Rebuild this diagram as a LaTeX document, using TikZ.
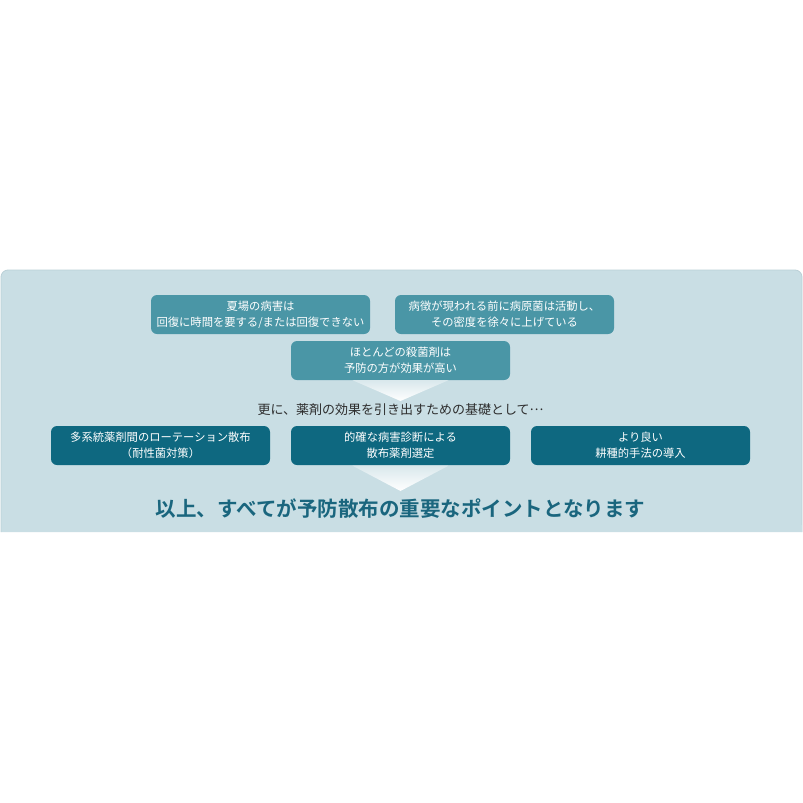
\documentclass[tikz,border=0pt]{standalone}
\usepackage{fontspec}
\setmainfont{Noto Sans CJK JP}[BoldFont={Noto Sans CJK JP Bold}]
\usetikzlibrary{calc}
\definecolor{panel}{RGB}{201,222,228}
\definecolor{panelEdge}{RGB}{186,208,215}
\definecolor{midteal}{RGB}{74,150,166}
\definecolor{darkteal}{RGB}{14,104,128}
\definecolor{titlecol}{RGB}{26,102,126}
\definecolor{midtext}{RGB}{45,45,45}
\tikzset{
  factbox/.style={rectangle, rounded corners=6pt, fill=midteal, text=white,
    minimum width=219pt, minimum height=39pt, inner sep=0pt, align=center,
    font=\fontsize{11.3}{16}\selectfont},
  basebox/.style={factbox, fill=darkteal},
}
\begin{document}
\begin{tikzpicture}[x=1pt,y=-1pt]
\useasboundingbox (0,0) rectangle (803,803);
\fill[white] (0,0) rectangle (803,803);
% panel
\draw[panelEdge, fill=panel, line width=0.8pt, rounded corners=7pt]
  (1,532) -- (1,270) -- (802,270) -- (802,532);
\fill[panel] (1.5,525) rectangle (801.5,532);
% boxes
\node[factbox] (b1) at (260.5,314.5) {夏場の病害は\\回復に時間を要する/または回復できない};
\node[factbox] (b2) at (504.5,314.5) {病徴が現われる前に病原菌は活動し、\\その密度を徐々に上げている};
\node[factbox] (b3) at (400.5,360.5) {ほとんどの殺菌剤は\\予防の方が効果が高い};
% arrow triangle 1
\coordinate (t1) at (400.5,401);
\shade[top color=panel!70!white, bottom color=white]
  ($(b3.south)+(-48,0)$) -- ($(b3.south)+(48,0)$) -- (t1) -- cycle;
\node[text=midtext, font=\fontsize{13}{15}\selectfont] (mid) at (400.5,409.5)
  {更に、薬剤の効果を引き出すための基礎として\raisebox{0.33em}{…}};
\node[basebox] (b4) at (160.5,445.5) {多系統薬剤間のローテーション散布\\（耐性菌対策）};
\node[basebox] (b5) at (400.5,445.5) {的確な病害診断による\\散布薬剤選定};
\node[basebox] (b6) at (640.5,445.5) {より良い\\耕種的手法の導入};
% arrow triangle 2
\coordinate (t2) at (400.5,491);
\shade[top color=panel!70!white, bottom color=white]
  ($(b5.south)+(-48,0.5)$) -- ($(b5.south)+(48,0.5)$) -- (t2) -- cycle;
\node[text=titlecol, font=\fontsize{20.5}{24}\selectfont\bfseries] (title) at (400.5,509)
  {以上、すべてが予防散布の重要なポイントとなります};
\end{tikzpicture}
\end{document}
